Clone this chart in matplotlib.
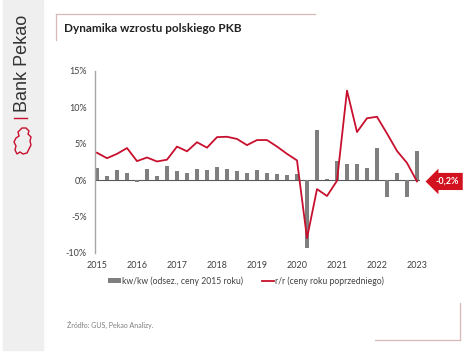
import matplotlib
matplotlib.use("Agg")
import matplotlib.pyplot as plt
from matplotlib.patches import Rectangle, Polygon
from matplotlib.lines import Line2D
from matplotlib.ticker import FuncFormatter, FixedLocator

# quarterly data, 2015Q1 .. 2023Q1
quarters = [f"{y}Q{q}" for y in range(2015, 2024) for q in range(1, 5)][:33]
kw_kw = [1.7, 0.6, 1.35, 0.9, -0.3, 1.5, 0.6, 1.95, 1.25, 1.0, 1.5, 1.4,
         1.85, 1.45, 1.25, 1.0, 1.4, 0.9, 0.8, 0.65, 0.8, -9.3, 6.85, 0.15,
         2.6, 2.2, 2.2, 1.7, 4.45, -2.4, 1.0, -2.4, 4.0]
r_r = [3.75, 3.0, 3.6, 4.4, 2.6, 3.1, 2.55, 2.8, 4.6, 3.95, 5.2, 4.45,
       5.9, 5.95, 5.65, 4.8, 5.5, 5.5, 4.6, 3.6, 2.7, -8.0, -1.25, -2.2,
       -0.1, 12.3, 6.6, 8.5, 8.7, 6.4, 4.0, 2.35, -0.2]
year_labels = [str(y) for y in range(2015, 2024)]

W, H = 474, 355
GRAY_BAR = "#7f7f7f"
RED = "#c8102e"
TXT = "#404040"

plt.rcParams["font.family"] = ["Lato", "DejaVu Sans"]

fig = plt.figure(figsize=(W / 100, H / 100), dpi=100)


def fx(px):
    return px / W


def fy(py):
    return 1 - py / H


# left brand strip
fig.patches.append(Rectangle((fx(3), fy(350)), fx(40), 350 / H,
                             transform=fig.transFigure, color="#efefef", zorder=0))
fig.text(fx(23), fy(63), "Bank Pekao", rotation=90, ha="center", va="center",
         fontsize=13, color="#333333", family="Liberation Sans")
fig.lines.append(Line2D([fx(14), fx(27)], [fy(118), fy(118)], transform=fig.transFigure,
                        color=RED, lw=1))
logo = [(22, 128), (26, 128), (29, 131), (28, 134), (31, 137), (30, 141), (31, 145),
        (29, 149), (27, 153), (23, 154), (20, 152), (17, 154), (15, 150), (16, 146),
        (14, 142), (16, 138), (19, 136), (18, 132)]
fig.patches.append(Polygon([(fx(a), fy(b)) for a, b in logo], closed=True, fill=False,
                           edgecolor=RED, lw=1, transform=fig.transFigure))

# title frame
frame = "#d9b8b8"
fig.lines.append(Line2D([fx(56), fx(315)], [fy(14), fy(14)], transform=fig.transFigure,
                        color=frame, lw=0.9))
fig.lines.append(Line2D([fx(56), fx(56)], [fy(14), fy(40)], transform=fig.transFigure,
                        color=frame, lw=0.9))
fig.lines.append(Line2D([fx(375), fx(460)], [fy(340), fy(340)], transform=fig.transFigure,
                        color=frame, lw=0.9))
fig.lines.append(Line2D([fx(460), fx(460)], [fy(303), fy(340)], transform=fig.transFigure,
                        color=frame, lw=0.9))
fig.text(fx(64), fy(29), "Dynamika wzrostu polskiego PKB", fontsize=8.5,
         fontweight="bold", color="#222222", va="center", ha="left")

# chart
ax = fig.add_axes([fx(95), fy(252.7), fx(420 - 95), (252.7 - 71) / H])
x = list(range(len(quarters)))
bars = ax.bar(x, kw_kw, width=0.35, color=GRAY_BAR, zorder=2,
              label="kw/kw (odsez., ceny 2015 roku)")
line, = ax.plot(x, r_r, color=RED, lw=1.3, zorder=3, label="r/r (ceny roku poprzedniego)")
ax.axhline(0, color="#595959", lw=0.8, zorder=1)

ax.set_xlim(-0.2, 32.3)
ax.set_ylim(-10, 15)
ax.set_yticks([-10, -5, 0, 5, 10, 15])
ax.yaxis.set_major_formatter(FuncFormatter(lambda v, p: f"{v:.0f}%"))
ax.xaxis.set_major_locator(FixedLocator(list(range(0, 33, 4))))
ax.set_xticklabels(year_labels)
ax.tick_params(axis="both", length=0, labelsize=6.5, labelcolor=TXT)
ax.tick_params(axis="y", pad=6)
ax.tick_params(axis="x", pad=6)
for s in ("top", "right", "bottom"):
    ax.spines[s].set_visible(False)
ax.spines["left"].set_color("#a6a6a6")
ax.spines["left"].set_linewidth(1)
ax.patch.set_alpha(0)

last = f"{r_r[-1]:.1f}%".replace(".", ",")
ax.annotate(last, xy=(x[-1], r_r[-1]), xytext=(30, 0), textcoords="offset pixels",
            ha="center", va="center", fontsize=6.5, fontweight="bold", color="white",
            bbox=dict(boxstyle="larrow,pad=0.45", fc="#d2131f", ec="none"),
            annotation_clip=False)

leg = ax.legend(handles=[bars, line], loc="center", bbox_to_anchor=(fx(246), fy(281)),
                bbox_transform=fig.transFigure, ncol=2, frameon=False, fontsize=6.2,
                handlelength=1.5, handleheight=0.55, handletextpad=0.1,
                columnspacing=2.2)
for t in leg.get_texts():
    t.set_color(TXT)

fig.text(fx(67), fy(325), "Źródło: GUS, Pekao Analizy.", fontsize=5, color="#7f7f7f",
         va="center")

fig.savefig("out.png", dpi=100)
